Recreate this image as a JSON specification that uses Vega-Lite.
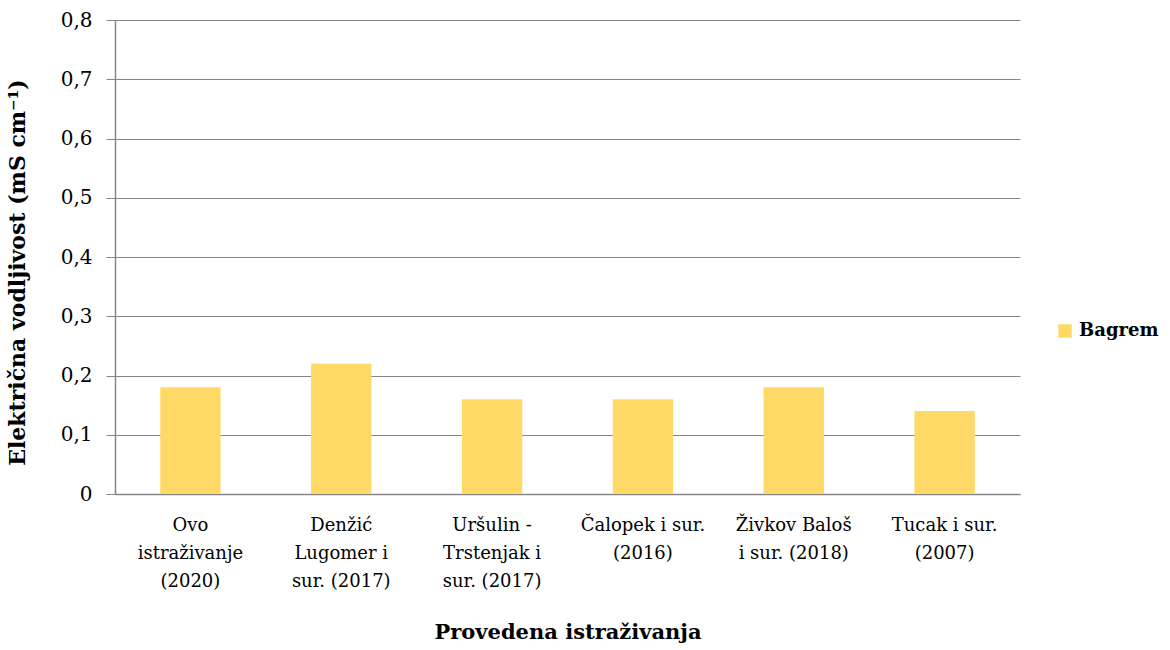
{
  "$schema": "https://vega.github.io/schema/vega-lite/v6.json",
  "autosize": {"type": "none"},
  "width": 905,
  "height": 474,
  "padding": {"left": 115, "top": 20, "right": 150, "bottom": 156},
  "background": "white",
  "data": {
    "values": [
      {"istrazivanje": "Ovo|istraživanje|(2020)", "serija": "Bagrem", "vrijednost": 0.18},
      {"istrazivanje": "Denžić|Lugomer i|sur. (2017)", "serija": "Bagrem", "vrijednost": 0.22},
      {"istrazivanje": "Uršulin -|Trstenjak i|sur. (2017)", "serija": "Bagrem", "vrijednost": 0.16},
      {"istrazivanje": "Čalopek i sur.|(2016)", "serija": "Bagrem", "vrijednost": 0.16},
      {"istrazivanje": "Živkov Baloš|i sur. (2018)", "serija": "Bagrem", "vrijednost": 0.18},
      {"istrazivanje": "Tucak i sur.|(2007)", "serija": "Bagrem", "vrijednost": 0.14}
    ]
  },
  "mark": {"type": "bar"},
  "encoding": {
    "x": {
      "field": "istrazivanje",
      "type": "nominal",
      "sort": null,
      "scale": {"paddingInner": 0.6, "paddingOuter": 0.3},
      "axis": {
        "title": "Provedena istraživanja",
        "titleFont": "DejaVu Serif",
        "titleFontSize": 21,
        "titleFontWeight": "bold",
        "titleColor": "#000000",
        "titlePadding": 31,
        "labelExpr": "split(datum.label, '|')",
        "labelFont": "DejaVu Serif",
        "labelFontSize": 18,
        "labelColor": "#000000",
        "labelAngle": 0,
        "labelLineHeight": 28,
        "labelPadding": 22,
        "labelLimit": 200,
        "ticks": false,
        "domainColor": "#868686",
        "domainWidth": 1.5
      }
    },
    "y": {
      "field": "vrijednost",
      "type": "quantitative",
      "scale": {"domain": [0, 0.8]},
      "axis": {
        "title": "Električna vodljivost (mS cm⁻¹)",
        "titleFont": "DejaVu Serif",
        "titleFontSize": 22,
        "titleFontWeight": "bold",
        "titleColor": "#000000",
        "titlePadding": 31,
        "titleY": 252,
        "values": [0, 0.1, 0.2, 0.3, 0.4, 0.5, 0.6, 0.7, 0.8],
        "labelExpr": "datum.value == 0 ? '0' : replace(format(datum.value, '.1f'), '.', ',')",
        "labelFont": "DejaVu Serif",
        "labelFontSize": 20,
        "labelColor": "#000000",
        "labelPadding": 14,
        "tickSize": 9,
        "tickColor": "#868686",
        "domainColor": "#868686",
        "domainWidth": 1.5,
        "grid": true,
        "gridColor": "#868686",
        "gridWidth": 1.2
      }
    },
    "color": {
      "field": "serija",
      "type": "nominal",
      "scale": {"range": ["#FFD966"]},
      "legend": {
        "title": null,
        "orient": "none",
        "legendX": 941,
        "legendY": 302,
        "symbolType": "square",
        "symbolSize": 180,
        "symbolStrokeWidth": 0,
        "labelFont": "DejaVu Serif",
        "labelFontSize": 18,
        "labelFontWeight": "bold",
        "labelColor": "#000000",
        "labelOffset": 5,
        "padding": 0
      }
    }
  },
  "config": {
    "view": {"stroke": null}
  }
}
